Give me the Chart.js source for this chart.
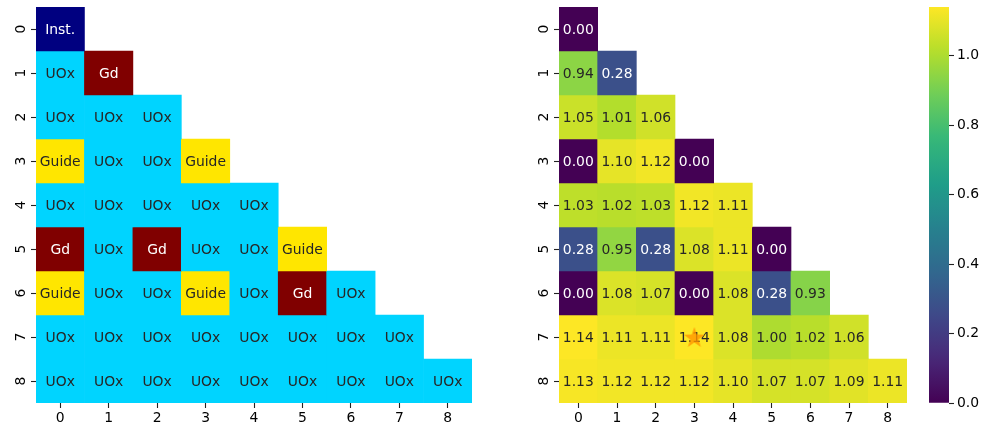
<!DOCTYPE html>
<html>
<head>
<meta charset="utf-8">
<script src="https://cdn.jsdelivr.net/npm/chart.js@4.4.1/dist/chart.umd.min.js"></script>
<style>
  html, body { margin: 0; padding: 0; background: #fff; }
  body { width: 985px; height: 430px; position: relative; overflow: hidden; }
  .box { position: absolute; top: 0; height: 430px; }
  #boxLeft { left: 0; width: 480px; }
  #boxRight { left: 520px; width: 400px; }
  #boxBar { left: 920px; width: 65px; }
</style>
</head>
<body>
<div class="box" id="boxLeft"><canvas id="assemblyChart"></canvas></div>
<div class="box" id="boxRight"><canvas id="powerChart"></canvas></div>
<div class="box" id="boxBar"><canvas id="colorBar"></canvas></div>
<script>
// Axis labels (rows and columns of the lower-triangular eighth-core map)
const rowLabels = ['0', '1', '2', '3', '4', '5', '6', '7', '8'];
const colLabels = ['0', '1', '2', '3', '4', '5', '6', '7', '8'];

// Pin type in each position, row by row
const pinTypes = [
  ['Inst.'],
  ['UOx', 'Gd'],
  ['UOx', 'UOx', 'UOx'],
  ['Guide', 'UOx', 'UOx', 'Guide'],
  ['UOx', 'UOx', 'UOx', 'UOx', 'UOx'],
  ['Gd', 'UOx', 'Gd', 'UOx', 'UOx', 'Guide'],
  ['Guide', 'UOx', 'UOx', 'Guide', 'UOx', 'Gd', 'UOx'],
  ['UOx', 'UOx', 'UOx', 'UOx', 'UOx', 'UOx', 'UOx', 'UOx'],
  ['UOx', 'UOx', 'UOx', 'UOx', 'UOx', 'UOx', 'UOx', 'UOx', 'UOx']
];

// Relative pin power in each position, row by row
const pinPower = [
  [0.00],
  [0.94, 0.28],
  [1.05, 1.01, 1.06],
  [0.00, 1.10, 1.12, 0.00],
  [1.03, 1.02, 1.03, 1.12, 1.11],
  [0.28, 0.95, 0.28, 1.08, 1.11, 0.00],
  [0.00, 1.08, 1.07, 0.00, 1.08, 0.28, 0.93],
  [1.14, 1.11, 1.11, 1.14, 1.08, 1.00, 1.02, 1.06],
  [1.13, 1.12, 1.12, 1.12, 1.10, 1.07, 1.07, 1.09, 1.11]
];

// Hottest pin marker (row, column)
const hotRow = [7];
const hotCol = [3];

// Colour bar ticks
const barTicks = [0.0, 0.2, 0.4, 0.6, 0.8, 1.0];

// ---- colours ----
const typeColors = { 'Inst.': '#000080', 'UOx': '#00d4ff', 'Guide': '#ffe600', 'Gd': '#800000' };
const viridisStops = ['#440154', '#482878', '#3e4989', '#31688e', '#26828e',
                      '#1f9e89', '#35b779', '#6ece58', '#b5de2b', '#fde725'];
function hexRgb(h) {
  return [parseInt(h.slice(1, 3), 16), parseInt(h.slice(3, 5), 16), parseInt(h.slice(5, 7), 16)];
}
function viridis(t) {
  t = Math.max(0, Math.min(1, t));
  const p = t * (viridisStops.length - 1);
  const i = Math.min(Math.floor(p), viridisStops.length - 2);
  const f = p - i;
  const a = hexRgb(viridisStops[i]), b = hexRgb(viridisStops[i + 1]);
  const c = a.map((v, k) => Math.round(v + (b[k] - v) * f));
  return 'rgb(' + c.join(',') + ')';
}
function luminance(css) {
  let rgb = css.startsWith('#') ? hexRgb(css) : css.match(/\d+/g).map(Number);
  const lin = rgb.map(v => { v /= 255; return v <= 0.03928 ? v / 12.92 : Math.pow((v + 0.055) / 1.055, 2.4); });
  return 0.2126 * lin[0] + 0.7152 * lin[1] + 0.0722 * lin[2];
}
function textColorOn(css) { return luminance(css) > 0.408 ? '#262626' : '#ffffff'; }

const vmin = 0;
const vmax = Math.max(...pinPower.flat());

const FONT = 'DejaVu Sans';
const FS = 13.9;
Chart.defaults.font.family = FONT;
Chart.defaults.font.size = FS;
Chart.defaults.color = '#000';

// One floating-bar dataset per row: each cell spans [row-0.5, row+0.5]
function rowDatasets(colorFor, textFor) {
  return rowLabels.map((_, r) => ({
    type: 'bar',
    grouped: false,
    barPercentage: 1,
    categoryPercentage: 1,
    borderWidth: 0,
    data: colLabels.map((_, c) => (c <= r ? [r - 0.5, r + 0.5] : null)),
    backgroundColor: colLabels.map((_, c) => (c <= r ? colorFor(r, c) : 'rgba(0,0,0,0)')),
    cellText: colLabels.map((_, c) => (c <= r ? textFor(r, c) : null))
  }));
}

// Writes each cell's annotation right after its row is drawn
const cellTextPlugin = {
  id: 'cellText',
  afterDatasetDraw(chart, args) {
    const ds = chart.data.datasets[args.index];
    if (!ds.cellText) return;
    const ctx = chart.ctx;
    ctx.save();
    ctx.font = FS + 'px "' + FONT + '"';
    ctx.textAlign = 'center';
    ctx.textBaseline = 'middle';
    args.meta.data.forEach((el, i) => {
      const txt = ds.cellText[i];
      if (txt === null || txt === undefined) return;
      ctx.fillStyle = textColorOn(ds.backgroundColor[i]);
      ctx.fillText(txt, el.x, (el.y + el.base) / 2 + 1);
    });
    ctx.restore();
  }
};

function tickAxisStyle() {
  return {
    display: true,
    drawOnChartArea: false,
    drawTicks: true,
    tickLength: 5,
    tickWidth: 1.1,
    tickColor: '#222',
    offset: false
  };
}

function heatmapOptions(yWidth, padRight) {
  return {
    responsive: true,
    maintainAspectRatio: false,
    animation: false,
    layout: { autoPadding: false, padding: { top: 7, right: padRight, bottom: 0, left: 0 } },
    plugins: { legend: { display: false }, tooltip: { enabled: false } },
    scales: {
      x: {
        type: 'category',
        labels: colLabels,
        offset: true,
        grid: tickAxisStyle(),
        border: { display: false },
        ticks: { padding: 2, color: '#000', maxRotation: 0, minRotation: 0 },
        afterFit(s) { s.height = 27; s.paddingLeft = 0; s.paddingRight = 0; }
      },
      y: {
        type: 'linear',
        reverse: true,
        min: -0.5,
        max: rowLabels.length - 0.5,
        grid: tickAxisStyle(),
        border: { display: false },
        afterBuildTicks(s) { s.ticks = rowLabels.map((_, i) => ({ value: i })); },
        ticks: {
          padding: 5.5,
          color: '#000',
          minRotation: 90,
          maxRotation: 90,
          crossAlign: 'center',
          callback: (v) => rowLabels[v]
        },
        afterFit(s) { s.width = yWidth; s.paddingTop = 0; s.paddingBottom = 0; }
      }
    }
  };
}

// Filled five-point star used as the hot-pin marker
function starImage(size, color) {
  const cv = document.createElement('canvas');
  cv.width = size; cv.height = size;
  const g = cv.getContext('2d');
  const cx = size / 2, cy = size / 2 + size * 0.05, R = size * 0.5, r = R * 0.4;
  g.beginPath();
  for (let k = 0; k < 10; k++) {
    const ang = -Math.PI / 2 + k * Math.PI / 5;
    const rad = k % 2 === 0 ? R : r;
    const px = cx + rad * Math.cos(ang), py = cy + rad * Math.sin(ang);
    if (k === 0) g.moveTo(px, py); else g.lineTo(px, py);
  }
  g.closePath();
  g.fillStyle = color;
  g.fill();
  return cv;
}

// ---- left: pin layout ----
new Chart(document.getElementById('assemblyChart'), {
  type: 'bar',
  data: {
    labels: colLabels,
    datasets: rowDatasets((r, c) => typeColors[pinTypes[r][c]], (r, c) => pinTypes[r][c])
  },
  options: heatmapOptions(36, 8),
  plugins: [cellTextPlugin]
});

// ---- right: pin power ----
const powerSets = rowDatasets(
  (r, c) => viridis((pinPower[r][c] - vmin) / (vmax - vmin)),
  (r, c) => pinPower[r][c].toFixed(2)
);
powerSets.push({
  type: 'line',
  order: -1,
  showLine: false,
  data: hotRow.map((r, i) => ({ x: colLabels[hotCol[i]], y: r })),
  pointStyle: starImage(22, 'rgba(255,150,0,0.8)'),
  pointRadius: 11
});
new Chart(document.getElementById('powerChart'), {
  type: 'bar',
  data: { labels: colLabels, datasets: powerSets },
  options: heatmapOptions(39, 13),
  plugins: [cellTextPlugin]
});

// ---- colour bar ----
new Chart(document.getElementById('colorBar'), {
  type: 'bar',
  data: {
    labels: ['scale'],
    datasets: [{
      data: [[vmin, vmax]],
      barPercentage: 1,
      categoryPercentage: 1,
      borderWidth: 0,
      backgroundColor(context) {
        const area = context.chart.chartArea;
        if (!area) return '#21918c';
        const grad = context.chart.ctx.createLinearGradient(0, area.bottom, 0, area.top);
        const n = 40;
        for (let k = 0; k <= n; k++) grad.addColorStop(k / n, viridis(k / n));
        return grad;
      }
    }]
  },
  options: {
    responsive: true,
    maintainAspectRatio: false,
    animation: false,
    layout: { padding: { top: 7, right: 0, bottom: 27, left: 9 } },
    plugins: { legend: { display: false }, tooltip: { enabled: false } },
    scales: {
      x: { display: false },
      y: {
        position: 'right',
        min: vmin,
        max: vmax,
        grid: tickAxisStyle(),
        border: { display: false },
        afterBuildTicks(s) { s.ticks = barTicks.map(v => ({ value: v })); },
        ticks: { padding: 3, color: '#000', callback: (v) => v.toFixed(1) },
        afterFit(s) { s.width = 36; s.paddingTop = 0; s.paddingBottom = 0; }
      }
    }
  }
});
</script>
</body>
</html>
